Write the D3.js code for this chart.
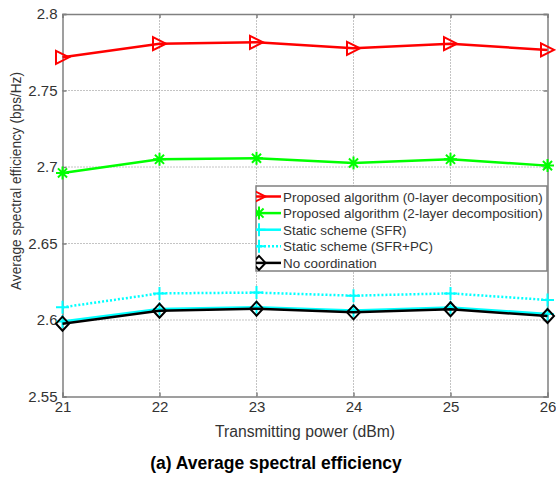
<!DOCTYPE html>
<html>
<head>
<meta charset="utf-8">
<script src="https://cdn.jsdelivr.net/npm/d3@7"></script>
<style>
	body { margin: 0; background: #fff; }
	svg { font-family: 'Liberation Sans', Arial, sans-serif; display: block; }
</style>
</head>
<body>
<div id="canvas"></div>
<script>
const powers = [21, 22, 23, 24, 25, 26];
const yTicks = [2.55, 2.6, 2.65, 2.7, 2.75, 2.8];
const seriesNames = [
	'Proposed algorithm (0-layer decomposition)',
	'Proposed algorithm (2-layer decomposition)',
	'Static scheme (SFR)',
	'Static scheme (SFR+PC)',
	'No coordination',
];
const prop0Layer = [2.7717, 2.7806, 2.7815, 2.7776, 2.7806, 2.7765];
const prop2Layer = [2.6961, 2.705, 2.7057, 2.7026, 2.705, 2.7009];
const staticSFR = [2.599, 2.6072, 2.6083, 2.6062, 2.6082, 2.604];
const staticSFRPC = [2.6083, 2.6174, 2.6179, 2.6159, 2.6174, 2.6131];
const noCoord = [2.5976, 2.6061, 2.6074, 2.605, 2.607, 2.6026];

const styles = [
	{ color: '#ff0000', dash: null, marker: 'tri' },
	{ color: '#00ff00', dash: null, marker: 'star' },
	{ color: '#00ffff', dash: null, marker: 'plus' },
	{ color: '#00ffff', dash: '2,2', marker: 'plus' },
	{ color: '#000000', dash: null, marker: 'diamond' },
];
const allSeries = [prop0Layer, prop2Layer, staticSFR, staticSFRPC, noCoord];

const width = 556, height = 480;
const margins = { top: 14, right: 8.5, bottom: 83.5, left: 62.5 };

const svg = d3.select('#canvas').append('svg')
	.attr('width', width).attr('height', height);

const x = d3.scaleLinear().domain([21, 26])
	.range([margins.left, width - margins.right]);
const y = d3.scaleLinear().domain([2.55, 2.8])
	.range([height - margins.bottom, margins.top]);

const axisColor = '#808080';
const textColor = '#333';

// grid
const grid = svg.append('g');
grid.selectAll('.gx').data(powers.slice(1, -1)).join('line')
	.attr('x1', d => x(d)).attr('x2', d => x(d))
	.attr('y1', y(2.55)).attr('y2', y(2.8))
	.attr('stroke', '#888').attr('stroke-width', 1).attr('stroke-dasharray', '1,2');
grid.selectAll('.gy').data(yTicks.slice(1, -1)).join('line')
	.attr('y1', d => y(d)).attr('y2', d => y(d))
	.attr('x1', x(21)).attr('x2', x(26))
	.attr('stroke', '#888').attr('stroke-width', 1).attr('stroke-dasharray', '1,2');

// axes
const xAxis = svg.append('g')
	.attr('transform', `translate(0,${y(2.55)})`)
	.call(d3.axisBottom(x).tickValues(powers).tickSize(-4).tickPadding(5).tickFormat(d3.format('d')));
const yAxis = svg.append('g')
	.attr('transform', `translate(${x(21)},0)`)
	.call(d3.axisLeft(y).tickValues(yTicks).tickSize(-4).tickPadding(5).tickFormat(d => d));
const xTop = svg.append('g')
	.attr('transform', `translate(0,${y(2.8)})`)
	.call(d3.axisTop(x).tickValues(powers).tickSize(-4).tickFormat(''));
const yRight = svg.append('g')
	.attr('transform', `translate(${x(26)},0)`)
	.call(d3.axisRight(y).tickValues(yTicks).tickSize(-4).tickFormat(''));

[xAxis, yAxis, xTop, yRight].forEach(a => {
	a.attr('font-size', null).attr('font-family', null);
	a.selectAll('path, line').attr('stroke', axisColor).attr('stroke-width', 1.5);
	a.selectAll('text').attr('fill', textColor).style('font-size', '15px');
});

// axis titles
svg.append('text')
	.attr('x', 305).attr('y', 437)
	.attr('text-anchor', 'middle').attr('fill', textColor)
	.style('font-size', '16px')
	.attr('textLength', 180).attr('lengthAdjust', 'spacingAndGlyphs')
	.text('Transmitting power (dBm)');
svg.append('text')
	.attr('transform', 'translate(21,181) rotate(-90)')
	.attr('text-anchor', 'middle').attr('fill', textColor)
	.style('font-size', '15.5px')
	.attr('textLength', 218).attr('lengthAdjust', 'spacingAndGlyphs')
	.text('Average spectral efficiency (bps/Hz)');
svg.append('text')
	.attr('x', 276).attr('y', 469)
	.attr('text-anchor', 'middle').attr('fill', '#000')
	.style('font-size', '17.5px').style('font-weight', 'bold')
	.text('(a) Average spectral efficiency');

function drawMarker(g, type, color, cx, cy) {
	const s = 6.5;
	if (type === 'tri') {
		g.append('path')
			.attr('d', `M${cx - s},${cy - s}L${cx + s},${cy}L${cx - s},${cy + s}Z`)
			.attr('fill', 'none').attr('stroke', color).attr('stroke-width', 2);
	} else if (type === 'diamond') {
		g.append('path')
			.attr('d', `M${cx},${cy - s - 0.5}L${cx + s},${cy}L${cx},${cy + s + 0.5}L${cx - s},${cy}Z`)
			.attr('fill', 'none').attr('stroke', color).attr('stroke-width', 2);
	} else if (type === 'plus') {
		g.append('path')
			.attr('d', `M${cx - s},${cy}H${cx + s}M${cx},${cy - s}V${cy + s}`)
			.attr('stroke', color).attr('stroke-width', 2);
	} else if (type === 'star') {
		const r = s, d = r * 0.7;
		g.append('path')
			.attr('d', `M${cx - r},${cy}H${cx + r}M${cx},${cy - r}V${cy + r}M${cx - d},${cy - d}L${cx + d},${cy + d}M${cx - d},${cy + d}L${cx + d},${cy - d}`)
			.attr('stroke', color).attr('stroke-width', 2);
	}
}

const line = d3.line().x((d, i) => x(powers[i])).y(d => y(d));
const plotG = svg.append('g');
allSeries.forEach((vals, k) => {
	const st = styles[k];
	const g = plotG.append('g');
	g.append('path').datum(vals)
		.attr('d', line).attr('fill', 'none')
		.attr('stroke', st.color).attr('stroke-width', 2.5)
		.attr('stroke-dasharray', st.dash);
	vals.forEach((v, i) => drawMarker(g, st.marker, st.color, x(powers[i]), y(v)));
});

// legend
const lg = svg.append('g');
const lx0 = 256, ly0 = 186, lw = 291, lh = 85;
lg.append('clipPath').attr('id', 'legclip').append('rect')
	.attr('x', lx0).attr('y', ly0).attr('width', lw).attr('height', lh);
lg.append('rect').attr('x', lx0).attr('y', ly0).attr('width', lw).attr('height', lh)
	.attr('fill', '#fff').attr('stroke', axisColor).attr('stroke-width', 1.5);
const rowsG = lg.append('g').attr('clip-path', 'url(#legclip)');
seriesNames.forEach((name, k) => {
	const st = styles[k];
	const cy = ly0 + 10.5 + k * 16.6;
	rowsG.append('line')
		.attr('x1', lx0).attr('x2', lx0 + 25).attr('y1', cy).attr('y2', cy)
		.attr('stroke', st.color).attr('stroke-width', 2.5)
		.attr('stroke-dasharray', st.dash);
	drawMarker(rowsG, st.marker, st.color, lx0 + 3, cy);
	lg.append('text')
		.attr('x', lx0 + 27).attr('y', cy + 5)
		.attr('fill', textColor).style('font-size', '13.4px')
		.text(name);
});
</script>
</body>
</html>
